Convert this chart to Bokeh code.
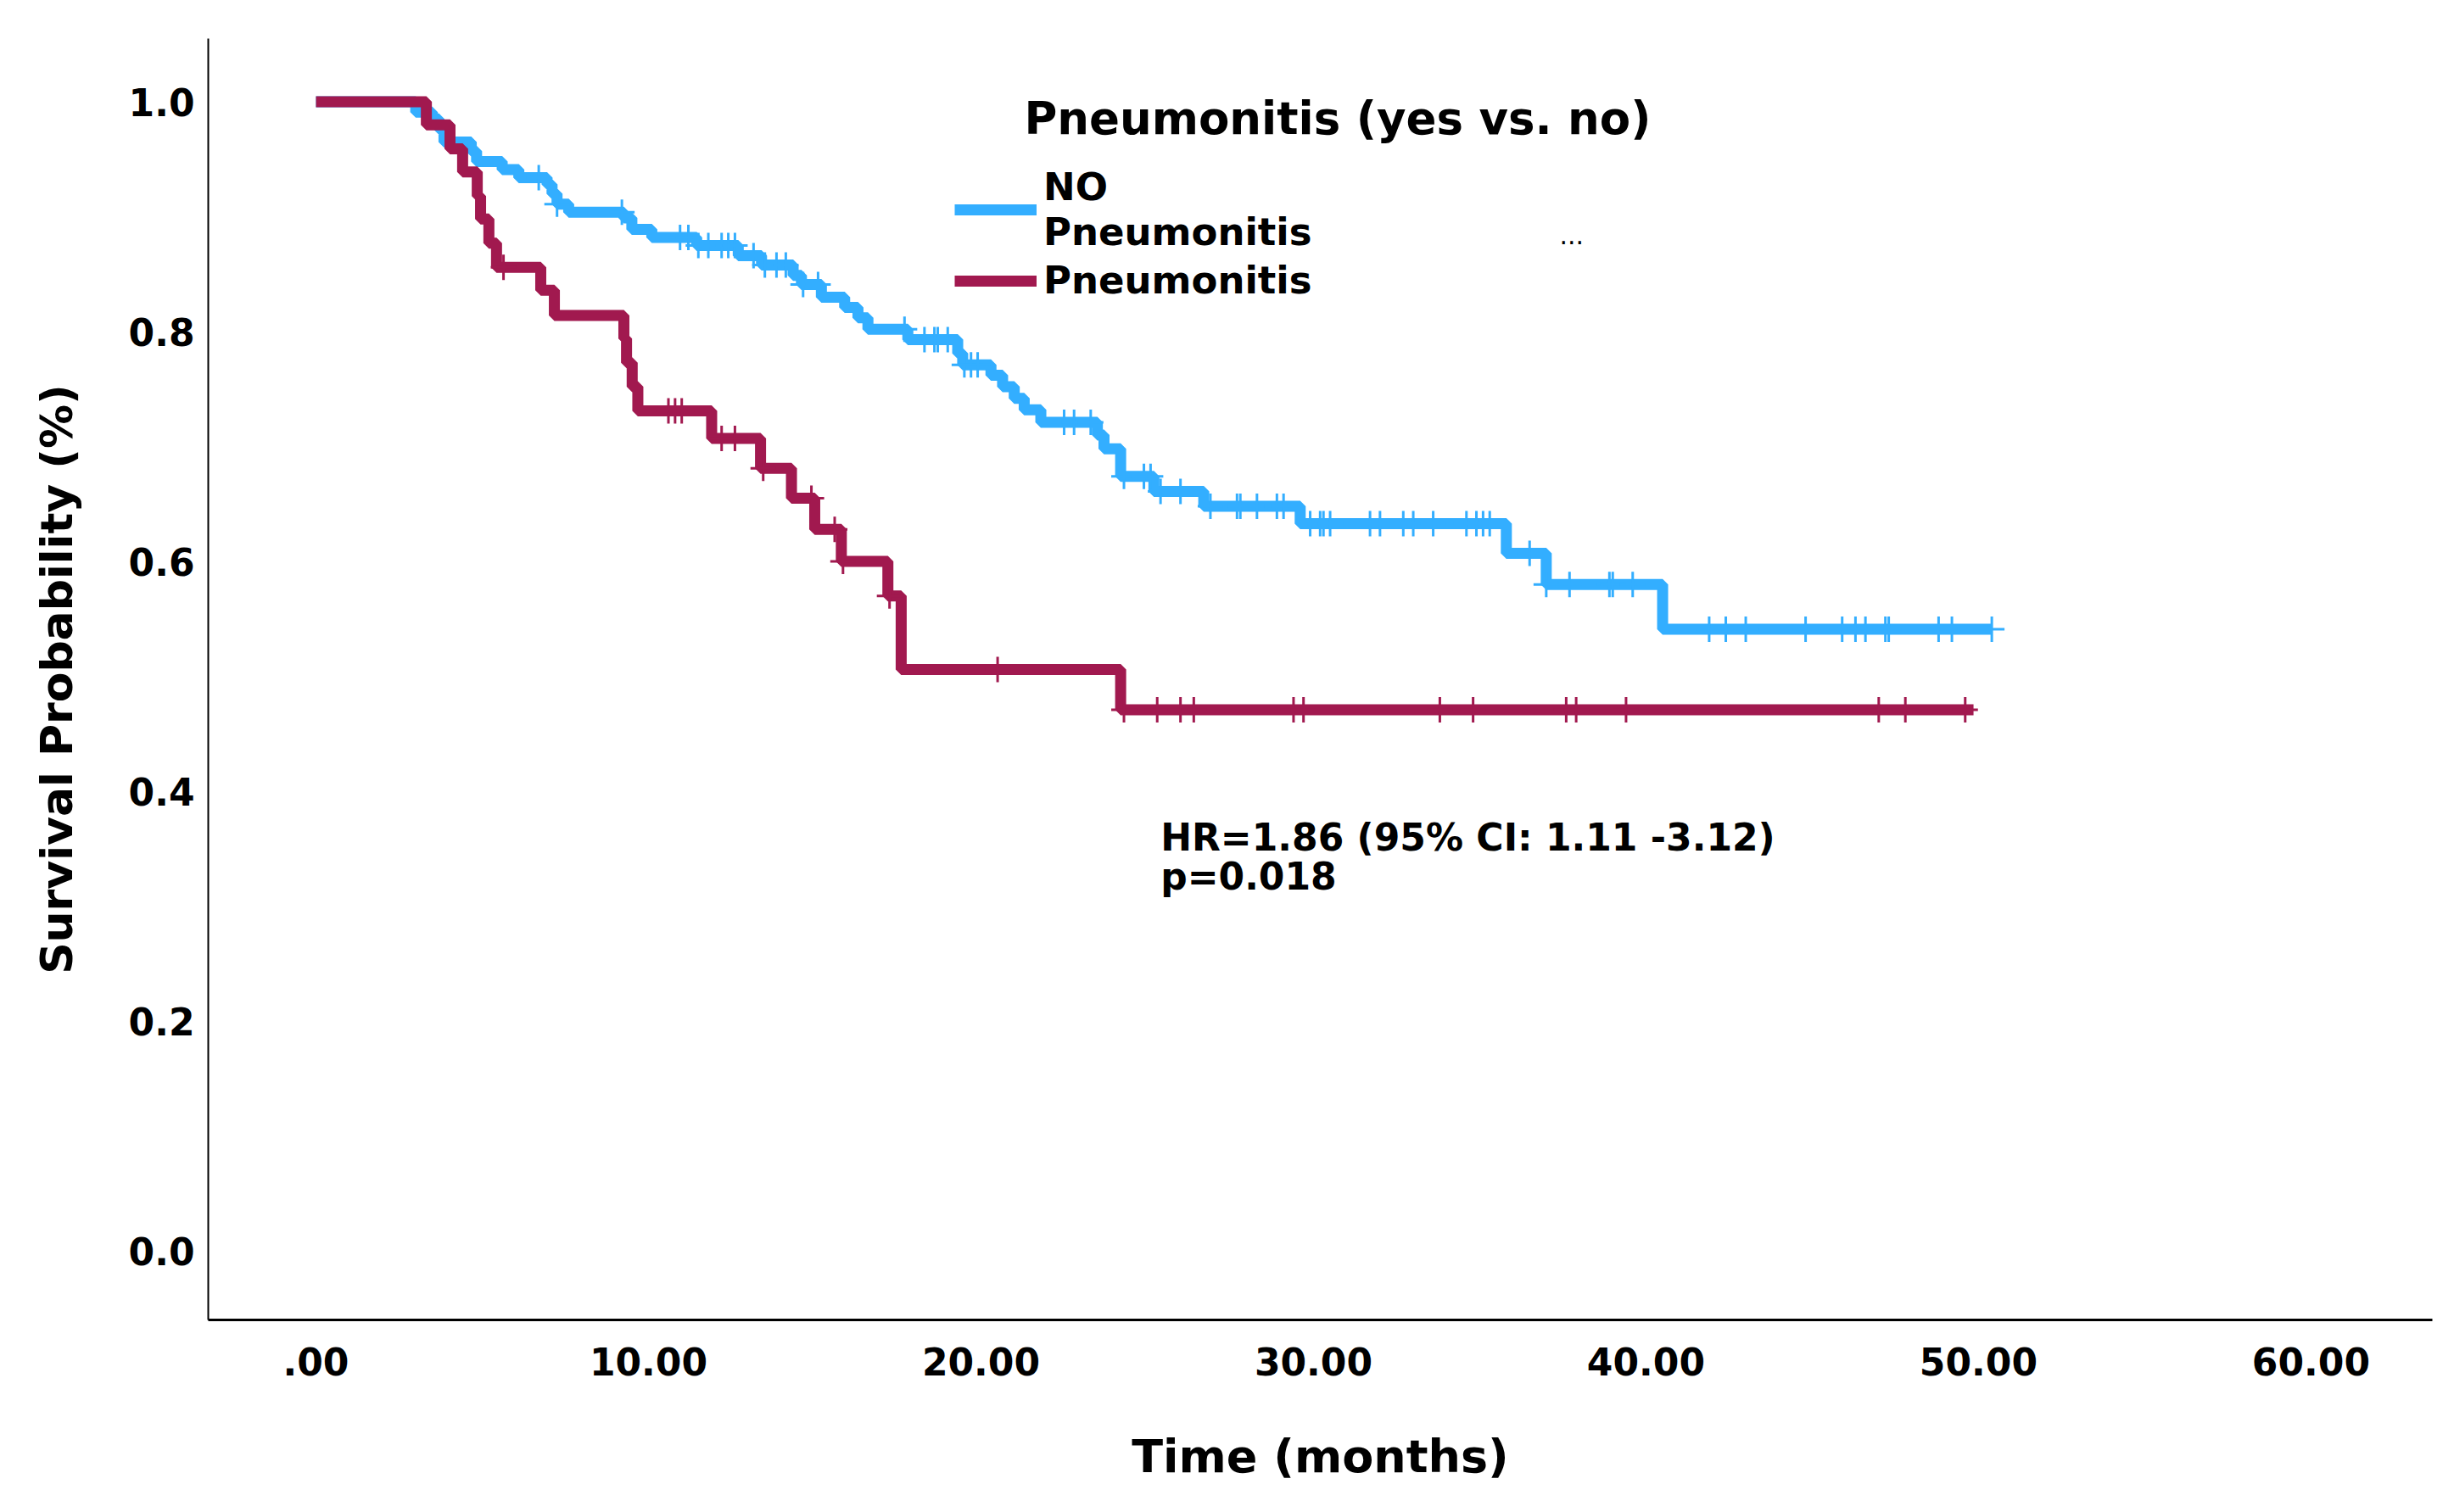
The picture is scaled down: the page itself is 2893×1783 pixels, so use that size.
import numpy as np
from bokeh.plotting import figure
from bokeh.models import Range1d, FixedTicker, Legend, LegendItem, Label
from bokeh.embed import file_html
from bokeh.resources import INLINE

# ---------------- data ----------------
# Kaplan-Meier step points: NO Pneumonitis
blue_t = [0, 3.0, 3.5, 3.7, 3.85, 4.67, 4.83, 5.6, 6.1, 6.95, 7.1, 7.25, 7.6, 9.26, 9.5,
          10.1, 11.45, 12.7, 13.4, 14.35, 14.6, 15.2, 15.9, 16.3, 16.6, 17.8, 19.3, 19.45,
          20.3, 20.65, 21.0, 21.3, 21.8, 23.5, 23.7, 24.2, 25.2, 26.7, 29.6, 35.8, 37.0,
          40.5, 50.4]
blue_s = [1.0, 0.991, 0.985, 0.976, 0.965, 0.957, 0.948, 0.941, 0.934, 0.928, 0.920, 0.911,
          0.904, 0.899, 0.889, 0.882, 0.875, 0.866, 0.858, 0.849, 0.841, 0.830, 0.821, 0.812,
          0.802, 0.793, 0.781, 0.771, 0.762, 0.752, 0.742, 0.732, 0.721, 0.710, 0.698, 0.674,
          0.661, 0.648, 0.633, 0.607, 0.580, 0.541, 0.541]
blue_censor = [6.7, 7.25, 9.2, 10.95, 11.2, 11.5, 11.8, 12.2, 12.4, 12.6, 13.16, 13.5, 13.85,
               14.13, 14.65, 15.1, 17.7, 18.3, 18.6, 18.7, 19.0, 19.5, 19.7, 19.9, 22.5, 22.8,
               23.3, 24.3, 24.9, 25.1, 25.4, 26.0, 26.9, 27.7, 27.8, 28.3, 28.9, 29.1, 29.9,
               30.2, 30.3, 30.5, 31.7, 32.0, 32.7, 33.0, 33.6, 34.6, 34.9, 35.1, 35.3, 36.5,
               37.0, 37.7, 38.9, 39.0, 39.6, 41.9, 42.4, 43.0, 44.8, 45.9, 46.3, 46.6, 47.2,
               47.3, 48.8, 49.2, 50.4]

# Kaplan-Meier step points: Pneumonitis
red_t = [0, 3.32, 4.03, 4.41, 4.85, 4.95, 5.2, 5.43, 6.76, 7.17, 9.26, 9.34, 9.51, 9.68,
         11.9, 13.37, 14.3, 15.0, 15.8, 17.2, 17.6, 24.2, 49.85]
red_s = [1.0, 0.980, 0.959, 0.939, 0.918, 0.898, 0.877, 0.856, 0.836, 0.814, 0.794, 0.773,
         0.752, 0.731, 0.707, 0.681, 0.655, 0.628, 0.600, 0.570, 0.506, 0.471, 0.471]
red_censor = [5.64, 10.6, 10.8, 11.0, 12.2, 12.6, 13.45, 14.9, 15.6, 15.85, 17.25, 20.5,
              24.3, 25.3, 26.0, 26.4, 29.4, 29.7, 33.8, 34.8, 37.6, 37.9, 39.4, 47.0,
              47.8, 49.6]

x_ticks = [0, 10, 20, 30, 40, 50, 60]
x_tick_labels = [".00", "10.00", "20.00", "30.00", "40.00", "50.00", "60.00"]
y_ticks = [0.0, 0.2, 0.4, 0.6, 0.8, 1.0]
y_tick_labels = ["0.0", "0.2", "0.4", "0.6", "0.8", "1.0"]

group_labels = ["NO\nPneumonitis", "Pneumonitis"]
legend_title = "Pneumonitis (yes vs. no)"
hr_text = "HR=1.86 (95% CI: 1.11 -3.12)"
p_text = "p=0.018"

BLUE = "#33AEFF"
RED = "#A1194F"
FONT = "DejaVu Sans"


def surv_at(ts, ss, times):
    ts = np.asarray(ts)
    ss = np.asarray(ss)
    idx = np.searchsorted(ts, np.asarray(times), side="right") - 1
    return ss[idx]


p = figure(width=2877, height=1767, output_backend="svg", toolbar_location=None,
           x_range=Range1d(-3.24, 63.65), y_range=Range1d(-0.060, 1.055),
           min_border_left=245, min_border_right=10, min_border_top=45,
           min_border_bottom=211)
p.outline_line_color = None
p.xgrid.grid_line_color = None
p.ygrid.grid_line_color = None
p.background_fill_color = "white"

r_blue = p.step(blue_t, blue_s, mode="after", line_color=BLUE, line_width=13)
r_red = p.step(red_t, red_s, mode="after", line_color=RED, line_width=13)

p.scatter(blue_censor, surv_at(blue_t, blue_s, blue_censor), marker="cross", size=30,
          line_color=BLUE, line_width=3)
p.scatter(red_censor, surv_at(red_t, red_s, red_censor), marker="cross", size=30,
          line_color=RED, line_width=3)

# axes
xa = p.xaxis[0]
xa.ticker = FixedTicker(ticks=x_ticks)
xa.major_label_overrides = {t: l for t, l in zip(x_ticks, x_tick_labels)}
ya = p.yaxis[0]
ya.ticker = FixedTicker(ticks=y_ticks)
ya.major_label_overrides = {t: l for t, l in zip(y_ticks, y_tick_labels)}
for ax in (xa, ya):
    ax.major_tick_line_color = None
    ax.minor_tick_line_color = None
    ax.major_label_text_font = FONT
    ax.major_label_text_font_style = "bold"
    ax.major_label_text_font_size = "44px"
    ax.major_label_text_color = "black"
    ax.axis_label_text_font = FONT
    ax.axis_label_text_font_style = "bold"
    ax.axis_label_text_color = "black"
    ax.axis_line_color = "black"
xa.axis_label_text_font_size = "54px"
ya.axis_label_text_font_size = "52px"
xa.axis_line_width = 3
ya.axis_line_width = 2
xa.axis_label = "Time (months)"
ya.axis_label = "Survival Probability (%)"
xa.major_label_standoff = 26
xa.axis_label_standoff = 61
ya.major_label_standoff = 10
ya.axis_label_standoff = 52

legend = Legend(items=[LegendItem(label=group_labels[0], renderers=[r_blue]),
                       LegendItem(label=group_labels[1], renderers=[r_red])],
                location=(880, 1199), border_line_color=None, background_fill_alpha=0,
                label_text_font=FONT, label_text_font_style="bold",
                label_text_font_size="45px", label_text_color="black",
                glyph_width=97, glyph_height=40,
                label_standoff=8, padding=0, margin=0, spacing=4)
p.add_layout(legend)

p.add_layout(Label(x=21.30, y=0.986, text=legend_title, text_font=FONT,
                   text_font_style="bold", text_font_size="53px", text_color="black",
                   text_baseline="alphabetic"))
p.add_layout(Label(x=37.40, y=0.884, text="...", text_font=FONT, text_color="black",
                   text_font_size="30px", text_baseline="alphabetic"))
p.add_layout(Label(x=25.40, y=0.360, text=hr_text, text_font=FONT,
                   text_font_style="bold", text_font_size="44px", text_color="black",
                   text_baseline="alphabetic"))
p.add_layout(Label(x=25.40, y=0.326, text=p_text, text_font=FONT,
                   text_font_style="bold", text_font_size="44px", text_color="black",
                   text_baseline="alphabetic"))

open("out.html", "w").write(file_html(p, INLINE))
